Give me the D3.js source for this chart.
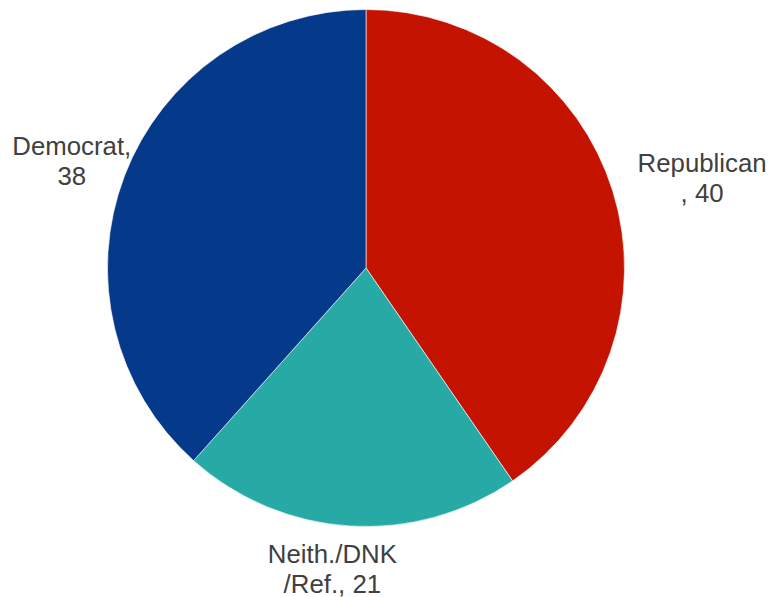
<!DOCTYPE html>
<html>
<head>
<meta charset="utf-8">
<script src="https://cdn.jsdelivr.net/npm/d3@7"></script>
<style>
  html, body { margin: 0; padding: 0; background: #fff; }
  svg { display: block; }
</style>
</head>
<body>
<svg id="chart" width="771" height="597"></svg>
<script>
// Party identification shares
const categories = ["Republican", "Neith./DNK/Ref.", "Democrat"];
const values = [40, 21, 38];
const labelLines = [["Republican", ", 40"], ["Neith./DNK", "/Ref., 21"], ["Democrat,", "38"]];
const colors = ["#C41300", "#27A9A5", "#05398A"];

// label placement: distance from centre along slice mid-angle, plus nudges
const labelDist = [352, 294, 315];
const labelNudge = [[0, 9], [-15, 2], [0, -1]];

const width = 771, height = 597;
const cx = 366, cy = 268, radius = 258.5;

const svg = d3.select("#chart");
const g = svg.append("g").attr("transform", `translate(${cx},${cy})`);

const data = categories.map((c, i) => ({ name: c, value: values[i], idx: i }));

const pie = d3.pie().value(d => d.value).sort(null);
const arc = d3.arc().innerRadius(0).outerRadius(radius);
const arcs = pie(data);

g.selectAll("path.slice")
  .data(arcs)
  .join("path")
  .attr("class", "slice")
  .attr("d", arc)
  .attr("fill", d => colors[d.data.idx])
  .attr("stroke", "#ffffff")
  .attr("stroke-width", 0.6);

const labels = g.selectAll("text.lbl")
  .data(arcs)
  .join("text")
  .attr("class", "lbl")
  .attr("font-family", "Liberation Sans, Arial, sans-serif")
  .attr("font-size", 25.8)
  .attr("fill", "#404040")
  .attr("text-anchor", "middle")
  .attr("transform", d => {
    const a = (d.startAngle + d.endAngle) / 2;
    const r = labelDist[d.data.idx];
    const n = labelNudge[d.data.idx];
    return `translate(${Math.sin(a) * r + n[0]},${-Math.cos(a) * r + n[1]})`;
  });

labels.selectAll("tspan")
  .data(d => labelLines[d.data.idx])
  .join("tspan")
  .attr("x", 0)
  .attr("y", (t, i) => i * 30)
  .text(t => t);
</script>
</body>
</html>
